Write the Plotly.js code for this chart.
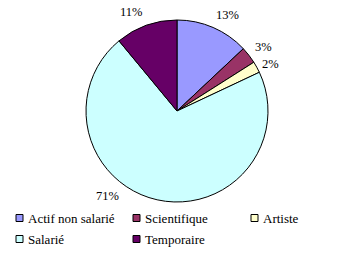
<!DOCTYPE html>
<html><head><meta charset="utf-8">
<script src="https://cdn.plot.ly/plotly-3.0.1.min.js"></script>
<style>html,body{margin:0;padding:0;background:#fff}#c{width:362px;height:256px}</style>
</head><body><div id="c"></div>
<script>
const categories = ["Actif non salarié", "Scientifique", "Artiste", "Salarié", "Temporaire"];
const values = [13, 3, 2, 71, 11];
const colors = ["#9999FF", "#993366", "#FFFFCC", "#CCFFFF", "#660066"];

const serif = "'Liberation Serif', 'Times New Roman', Times, serif";
const font = {family: serif, size: 13, color: "#000"};
const pctFont = {family: serif, size: 12.5, color: "#000"};

const W = 362, H = 256;
const trace = {
  type: "pie",
  labels: categories,
  values: values,
  sort: false,
  direction: "clockwise",
  rotation: 0,
  marker: {colors: colors, line: {color: "#000", width: 1}},
  textinfo: "none",
  hoverinfo: "label+percent",
  showlegend: false,
  domain: {x: [(177 - 91) / W, (177 + 91) / W], y: [1 - 202 / H, 1 - 20 / H]}
};

// label placement (layout, pixels) for each slice's percent text
const labelPos = [[228, 15], [263, 47], [270, 64], [107, 196], [131, 12]];
// custom legend placement (layout, pixels)
const legX = [16, 133, 251, 16, 133];
const legY = [218, 218, 218, 239, 239];

const total = values.reduce((a, b) => a + b, 0);
const shapes = [], annotations = [];
categories.forEach((c, i) => {
  annotations.push({xref: "paper", yref: "paper", x: labelPos[i][0] / W, y: 1 - labelPos[i][1] / H,
    xanchor: "center", yanchor: "middle", text: Math.round(values[i] / total * 100) + "%",
    showarrow: false, font: pctFont});
  shapes.push({type: "rect", xref: "paper", yref: "paper",
    x0: legX[i] / W, x1: (legX[i] + 7) / W,
    y0: 1 - (legY[i] + 3.5) / H, y1: 1 - (legY[i] - 3.5) / H,
    fillcolor: colors[i], line: {color: "#000", width: 1}});
  annotations.push({xref: "paper", yref: "paper", x: (legX[i] + 10) / W, y: 1 - legY[i] / H,
    xanchor: "left", yanchor: "middle", text: c, showarrow: false, font: font});
});

Plotly.newPlot("c", [trace], {
  width: W, height: H,
  margin: {l: 0, r: 0, t: 0, b: 0},
  paper_bgcolor: "#fff",
  font: font,
  shapes: shapes,
  annotations: annotations
}, {staticPlot: true});
</script></body></html>
